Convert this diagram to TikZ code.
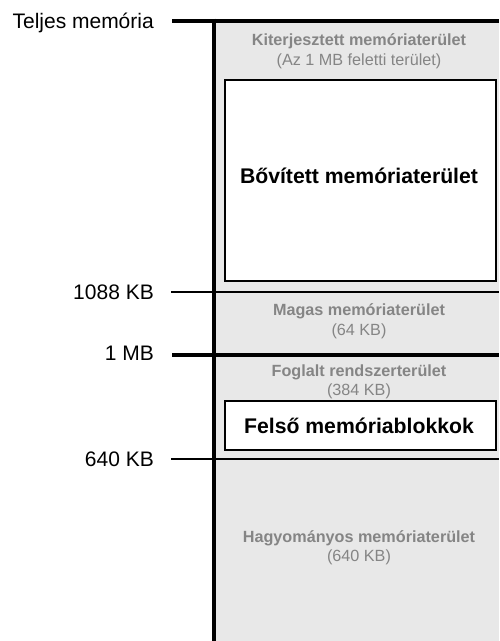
\documentclass[tikz,border=0pt]{standalone}
\usepackage{fontspec}
\setmainfont{Liberation Sans}
\definecolor{memfill}{RGB}{232,232,232}
\definecolor{memgray}{RGB}{133,133,133}
\tikzset{
  thickline/.style={line width=4pt},
  thinline/.style={line width=1.8pt},
  whitebox/.style={draw=black, fill=white, line width=1.8pt, inner sep=0pt},
  sidelabel/.style={anchor=base east, inner sep=0pt, font=\fontsize{21}{25}\selectfont},
  areatitle/.style={anchor=base, inner sep=0pt, text=memgray, font=\fontsize{16.2}{19}\selectfont\bfseries},
  areasub/.style={anchor=base, inner sep=0pt, text=memgray, font=\fontsize{16.2}{19}\selectfont},
  boxtext/.style={anchor=base, inner sep=0pt, font=\fontsize{21.2}{25}\selectfont\bfseries}
}
\begin{document}
\begin{tikzpicture}[x=1pt,y=-1pt]
\useasboundingbox (0,0) rectangle (499,641);
% gray background of the memory column
\fill[memfill] (213.7,20.5) rectangle (499,641);

% white boxes
\node[whitebox, minimum width=271pt, minimum height=201pt] (bovbox) at (360.5,180.5) {};
\node[whitebox, minimum width=271pt, minimum height=49pt] (felbox) at (360.5,425.5) {};

% texts inside
\node[areatitle] (kit) at (359,45.7) {Kiterjesztett memóriaterület};
\node[areasub] (kitsub) at (359,65.3) {(Az 1 MB feletti terület)};
\node[boxtext] (bov) at (359,183.3) {Bővített memóriaterület};
\node[areatitle] (mag) at (359,315.3) {Magas memóriaterület};
\node[areasub] (magsub) at (359,335) {(64 KB)};
\node[areatitle] (fog) at (359,376.7) {Foglalt rendszerterület};
\node[areasub] (fogsub) at (359,395.3) {(384 KB)};
\node[boxtext] (fel) at (359,433.3) {Felső memóriablokkok};
\node[areatitle] (hag) at (359,542.3) {Hagyományos memóriaterület};
\node[areasub] (hagsub) at (359,561.7) {(640 KB)};

% boundary lines
\coordinate (topL) at (172,20.5);   \coordinate (topR) at (499,20.5);
\coordinate (hiL) at (171,292);     \coordinate (hiR) at (499,292);
\coordinate (mbL) at (172,354.7);   \coordinate (mbR) at (499,354.7);
\coordinate (kbL) at (171,459);     \coordinate (kbR) at (499,459);
\coordinate (axT) at (213.7,18.5); \coordinate (axB) at (213.7,641);

\draw[thickline] (topL) -- (topR);
\draw[thinline] (hiL) -- (hiR);
\draw[thickline] (mbL) -- (mbR);
\draw[thinline] (kbL) -- (kbR);
\draw[thickline] (axT) -- (axB);

% side labels
\node[sidelabel] (lteljes) at (154,28.3) {Teljes memória};
\node[sidelabel] (l1088) at (154,299.3) {1088 KB};
\node[sidelabel] (l1mb) at (154,360.7) {1 MB};
\node[sidelabel] (l640) at (154,466) {640 KB};
\end{tikzpicture}
\end{document}
